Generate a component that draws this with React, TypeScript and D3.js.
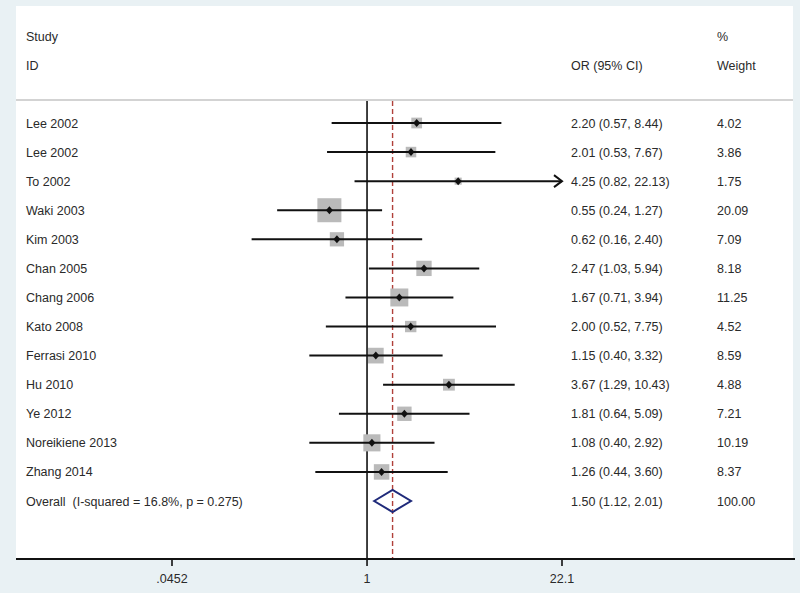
import React from "react";
import * as d3 from "d3";

const studies = ["Lee 2002","Lee 2002","To 2002","Waki 2003","Kim 2003","Chan 2005","Chang 2006","Kato 2008","Ferrasi 2010","Hu 2010","Ye 2012","Noreikiene 2013","Zhang 2014"];
const orValues = [2.20,2.01,4.25,0.55,0.62,2.47,1.67,2.00,1.15,3.67,1.81,1.08,1.26];
const lowerCI = [0.57,0.53,0.82,0.24,0.16,1.03,0.71,0.52,0.40,1.29,0.64,0.40,0.44];
const upperCI = [8.44,7.67,22.13,1.27,2.40,5.94,3.94,7.75,3.32,10.43,5.09,2.92,3.60];
const weights = [4.02,3.86,1.75,20.09,7.09,8.18,11.25,4.52,8.59,4.88,7.21,10.19,8.37];
const overallLabel = "Overall  (I-squared = 16.8%, p = 0.275)";
const overall = { or: 1.50, lo: 1.12, hi: 2.01, weight: 100.0 };
const tickValues = [0.0452, 1, 22.1];
const tickLabels = [".0452", "1", "22.1"];

const W = 800, H = 593;
const FONT = "'Liberation Sans', Arial, Helvetica, sans-serif";
const TEXT = "#2a2a2a";

export default function App() {
  const x = d3.scaleLog().domain([tickValues[0], tickValues[2]]).range([172, 562]);
  const y = d3.scalePoint<number>().domain(d3.range(studies.length + 1)).range([123, 501]);
  const boxSide = d3.scaleSqrt().domain([0, 20.09]).range([0, 24]);
  const fmt = d3.format(".2f");
  const panelTop = 6, panelBottom = 559, left = 16, right = 793;
  const lineTop = 101;
  const xmin = tickValues[0], xmax = tickValues[2];

  return (
    <svg width={W} height={H} style={{ position: "absolute", left: 0, top: 0 }} fontFamily={FONT}>
      <rect x={0} y={0} width={W} height={H} fill="#e9f1f4" />
      <rect x={left} y={panelTop} width={right - left} height={panelBottom - panelTop} fill="#ffffff" />
      {/* header */}
      <g fill={TEXT} fontSize={12.5}>
        <text x={26} y={41}>Study</text>
        <text x={26} y={70}>ID</text>
        <text x={571} y={70}>OR (95% CI)</text>
        <text x={717} y={41}>%</text>
        <text x={717} y={70}>Weight</text>
      </g>
      <line x1={left} x2={right} y1={100} y2={100} stroke="#c4c4c4" strokeWidth={1.5} />
      {/* reference lines */}
      <line x1={x(1)} x2={x(1)} y1={lineTop} y2={panelBottom} stroke="#111" strokeWidth={1.6} />
      <line x1={x(overall.or)} x2={x(overall.or)} y1={lineTop} y2={panelBottom} stroke="#b0403a" strokeWidth={1.4} strokeDasharray="5,3" />
      {/* studies */}
      {studies.map((s, i) => {
        const cy = y(i)!;
        const lo = Math.max(lowerCI[i], xmin);
        const hi = Math.min(upperCI[i], xmax);
        const side = boxSide(weights[i]);
        const cx = x(orValues[i]);
        return (
          <g key={i}>
            <rect x={cx - side / 2} y={cy - side / 2} width={side} height={side} fill="#bababa" />
            <line x1={x(lo)} x2={x(hi)} y1={cy} y2={cy} stroke="#111" strokeWidth={2} />
            {upperCI[i] > xmax && (
              <polyline points={`${x(hi) - 8},${cy - 6} ${x(hi)},${cy} ${x(hi) - 8},${cy + 6}`} fill="none" stroke="#111" strokeWidth={2} />
            )}
            <path d={`M${cx},${cy - 4}L${cx + 3.5},${cy}L${cx},${cy + 4}L${cx - 3.5},${cy}Z`} fill="#111" />
            <text x={26} y={cy + 4.5} fontSize={12.5} fill={TEXT}>{s}</text>
            <text x={571} y={cy + 4.5} fontSize={12.5} fill={TEXT}>{`${fmt(orValues[i])} (${fmt(lowerCI[i])}, ${fmt(upperCI[i])})`}</text>
            <text x={717} y={cy + 4.5} fontSize={12.5} fill={TEXT}>{fmt(weights[i])}</text>
          </g>
        );
      })}
      {/* overall */}
      {(() => {
        const cy = y(studies.length)!;
        return (
          <g>
            <path d={`M${x(overall.lo)},${cy}L${x(overall.or)},${cy - 11}L${x(overall.hi)},${cy}L${x(overall.or)},${cy + 11}Z`} fill="none" stroke="#1f2a7a" strokeWidth={2} />
            <text x={26} y={cy + 4.5} fontSize={12.5} fill={TEXT} style={{ whiteSpace: "pre" }}>{overallLabel}</text>
            <text x={571} y={cy + 4.5} fontSize={12.5} fill={TEXT}>{`${fmt(overall.or)} (${fmt(overall.lo)}, ${fmt(overall.hi)})`}</text>
            <text x={717} y={cy + 4.5} fontSize={12.5} fill={TEXT}>{fmt(overall.weight)}</text>
          </g>
        );
      })()}
      {/* axis */}
      <line x1={left} x2={795} y1={panelBottom} y2={panelBottom} stroke="#111" strokeWidth={2} />
      {tickValues.map((t, i) => (
        <g key={i}>
          <line x1={x(t)} x2={x(t)} y1={panelBottom} y2={panelBottom + 7} stroke="#111" strokeWidth={1.6} />
          <text x={x(t)} y={583} textAnchor="middle" fontSize={12.5} fill={TEXT}>{tickLabels[i]}</text>
        </g>
      ))}
    </svg>
  );
}
